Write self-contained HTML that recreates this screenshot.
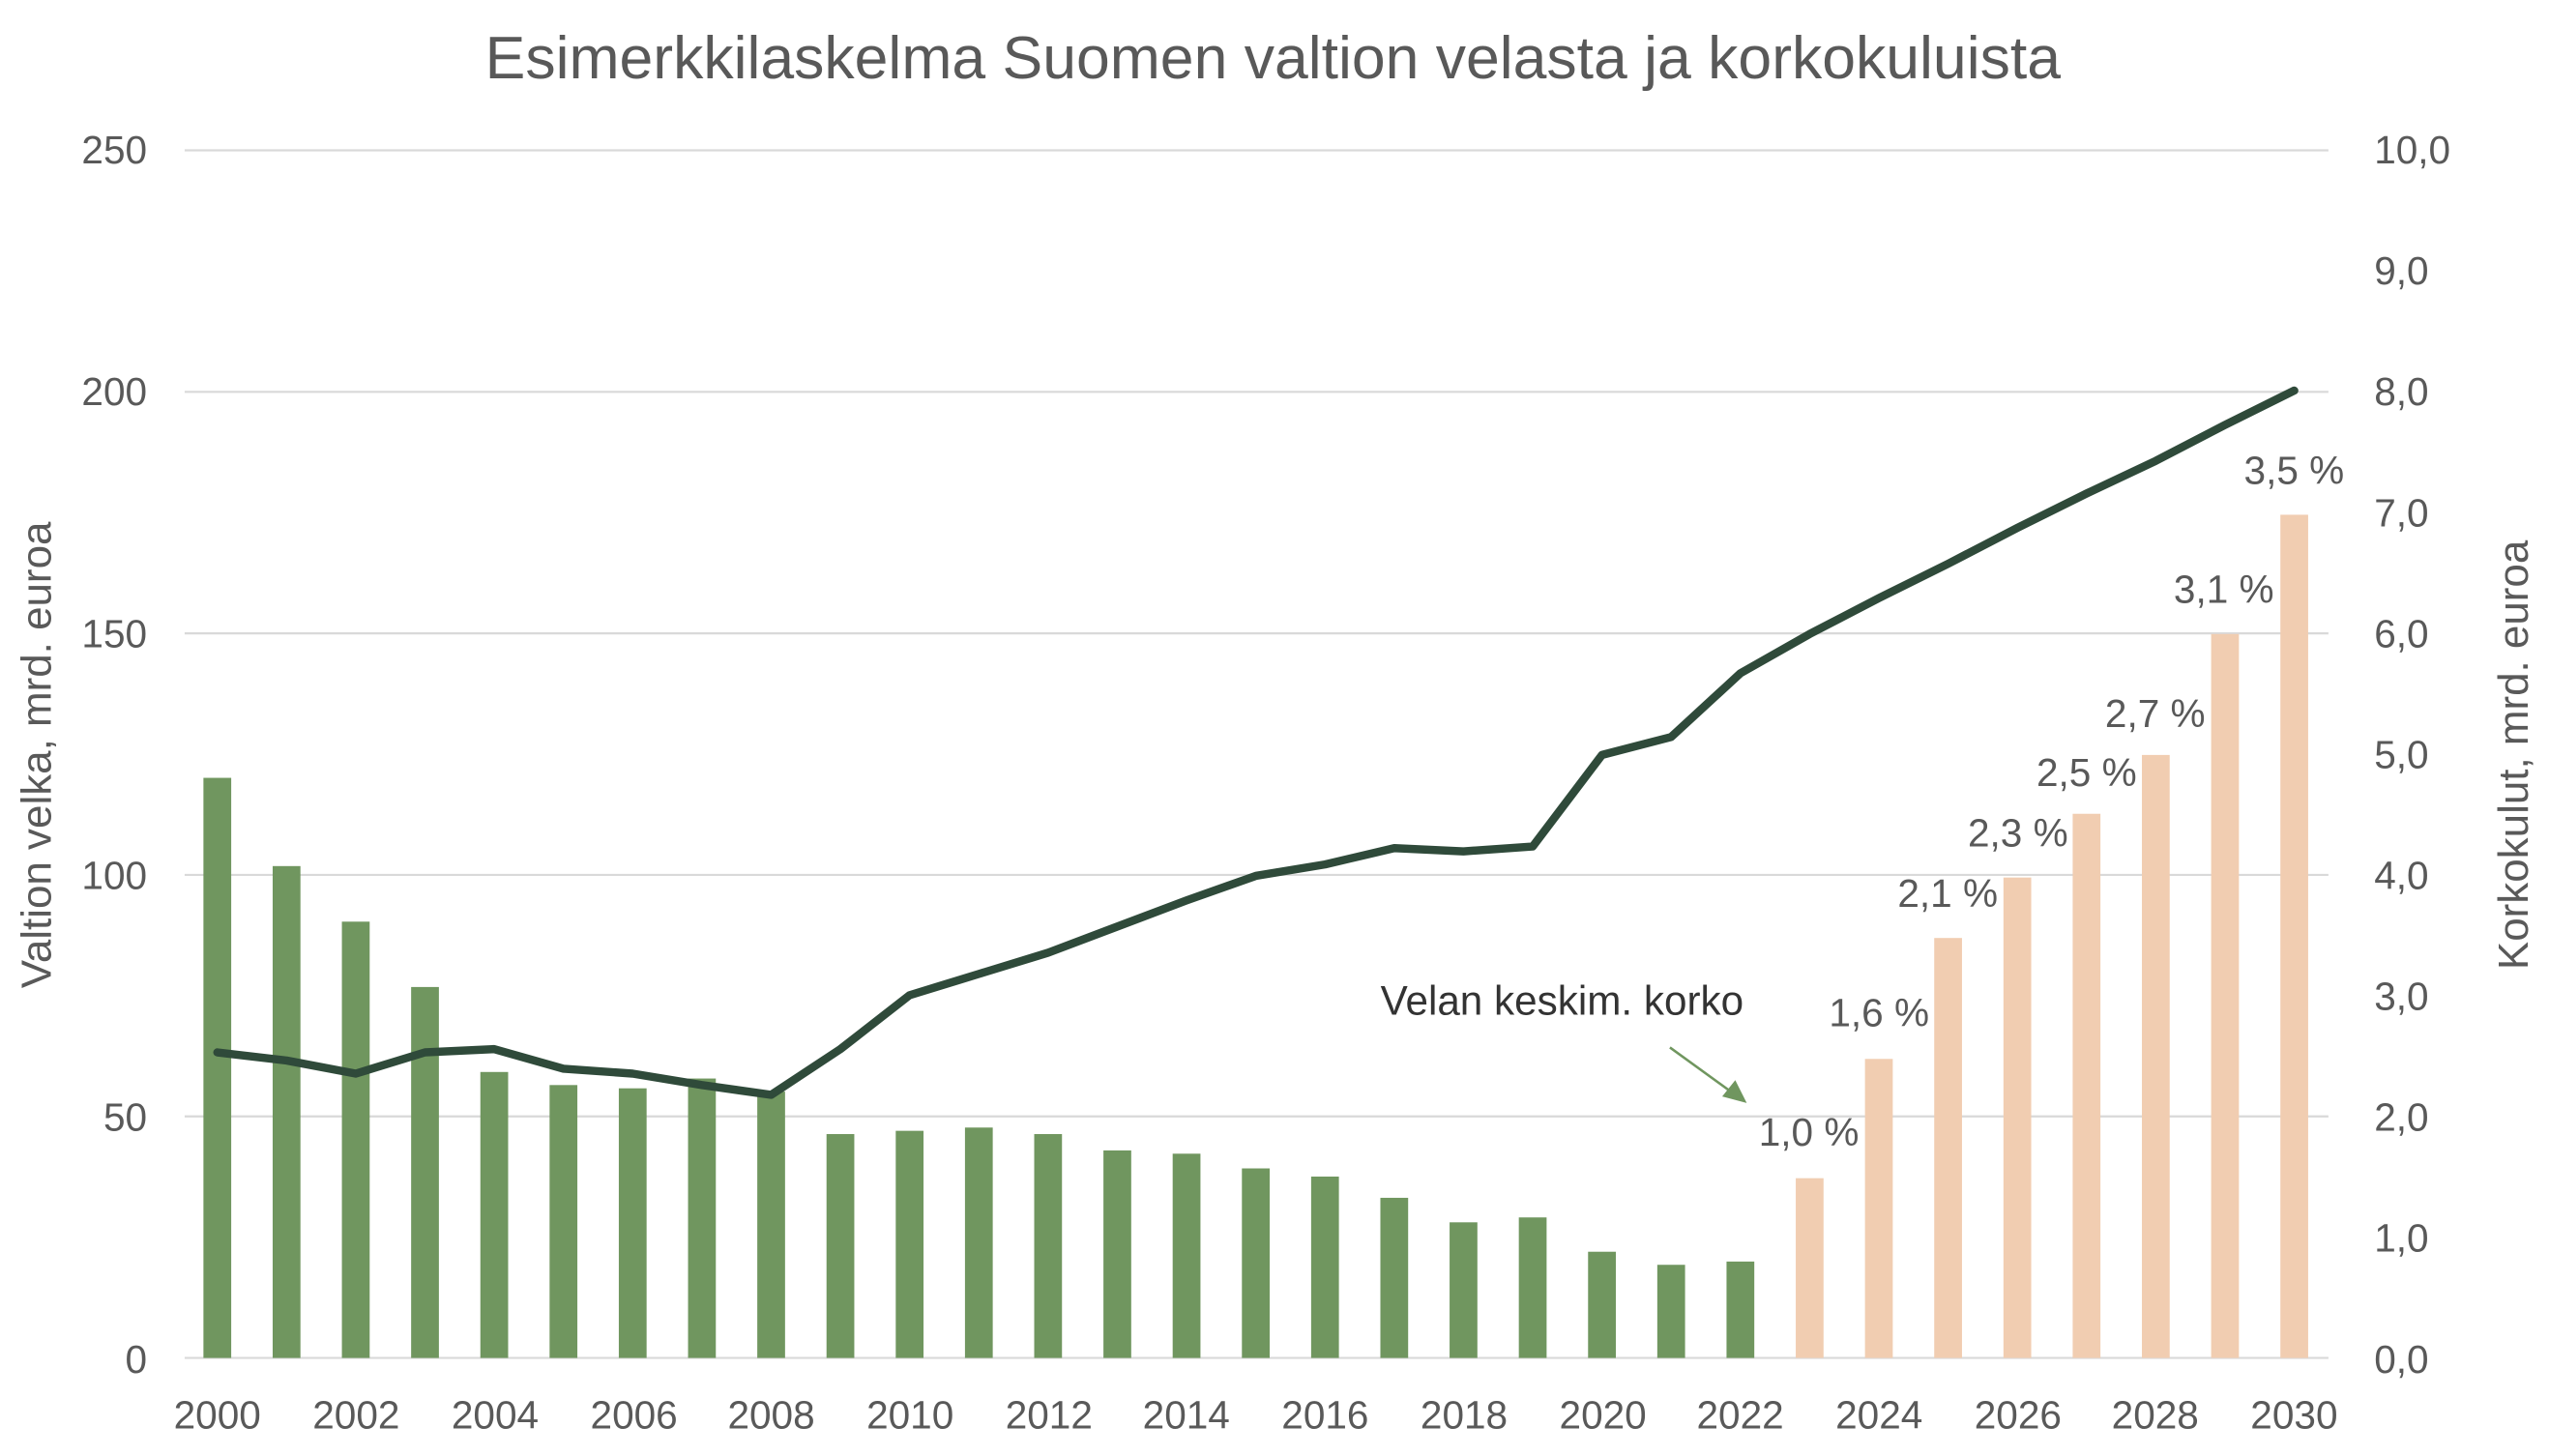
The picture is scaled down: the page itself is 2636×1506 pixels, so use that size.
<!DOCTYPE html>
<html><head><meta charset="utf-8"><style>
html,body{margin:0;padding:0;background:#fff;}
svg{display:block;}
text{font-family:"Liberation Sans",sans-serif;fill:#595959;}
</style></head><body>
<svg width="2636" height="1506" viewBox="0 0 1560 891" preserveAspectRatio="none" xmlns="http://www.w3.org/2000/svg">
<rect width="1560" height="891" fill="#fff"/>
<text x="779" y="48" font-size="37" text-anchor="middle">Esimerkkilaskelma Suomen valtion velasta ja korkokuluista</text>
<g stroke="#d9d9d9" stroke-width="1.3">
<line x1="113" x2="1425" y1="92" y2="92"/>
<line x1="113" x2="1425" y1="239.8" y2="239.8"/>
<line x1="113" x2="1425" y1="387.6" y2="387.6"/>
<line x1="113" x2="1425" y1="535.4" y2="535.4"/>
<line x1="113" x2="1425" y1="683.2" y2="683.2"/>
<line x1="113" x2="1425" y1="831" y2="831"/>
</g>
<g font-size="24" text-anchor="end">
<text x="90" y="100">250</text><text x="90" y="248">200</text><text x="90" y="396">150</text>
<text x="90" y="544">100</text><text x="90" y="692">50</text><text x="90" y="840">0</text>
</g>
<g font-size="24" text-anchor="start">
<text x="1453" y="100">10,0</text><text x="1453" y="174">9,0</text><text x="1453" y="248">8,0</text>
<text x="1453" y="322">7,0</text><text x="1453" y="396">6,0</text><text x="1453" y="470">5,0</text>
<text x="1453" y="544">4,0</text><text x="1453" y="618">3,0</text><text x="1453" y="692">2,0</text>
<text x="1453" y="766">1,0</text><text x="1453" y="840">0,0</text>
</g>
<text transform="translate(31,462) rotate(-90)" font-size="26" text-anchor="middle">Valtion velka, mrd. euroa</text>
<text transform="translate(1547,462) rotate(-90)" font-size="26" text-anchor="middle">Korkokulut, mrd. euroa</text>
<g id="bars"></g>
<g font-size="24" text-anchor="middle">
<text x="133" y="874">2000</text><text x="218" y="874">2002</text><text x="303" y="874">2004</text>
<text x="388" y="874">2006</text><text x="472" y="874">2008</text><text x="557" y="874">2010</text>
<text x="642" y="874">2012</text><text x="726" y="874">2014</text><text x="811" y="874">2016</text>
<text x="896" y="874">2018</text><text x="981" y="874">2020</text><text x="1065" y="874">2022</text>
<text x="1150" y="874">2024</text><text x="1235" y="874">2026</text><text x="1319" y="874">2028</text>
<text x="1404" y="874">2030</text>
</g>
<g font-size="24" text-anchor="middle">
<text x="1107" y="701">1,0 %</text><text x="1150" y="628">1,6 %</text><text x="1192" y="555">2,1 %</text>
<text x="1235" y="518">2,3 %</text><text x="1277" y="481">2,5 %</text><text x="1319" y="445">2,7 %</text>
<text x="1361" y="369">3,1 %</text><text x="1404" y="296">3,5 %</text>
</g>
<text x="956" y="621" font-size="25" text-anchor="middle" style="fill:#333">Velan keskim. korko</text>
<line x1="1022" y1="641" x2="1062" y2="670" stroke="#70965f" stroke-width="1.5"/>
<polygon points="1069,675 1054,671 1062,661" fill="#70965f"/>
</svg>
<script>
var tops=[476,530,564,604,656,664,666,660,668,694,692,690,694,704,706,715,720,733,748,745,766,774,772,721,648,574,537,498,462,388,315];
var line=[644,649,657,644,642,654,657,664,670,642,609,596,583,567,551,536,529,519,521,518,462,451,412,388,366,345,323,302,282,260,239];
var g=document.getElementById('bars'),ns="http://www.w3.org/2000/svg",pts=[];
for(var i=0;i<31;i++){var x=133+i*42.37;var r=document.createElementNS(ns,'rect');
r.setAttribute('x',x-8.5);r.setAttribute('width',17);r.setAttribute('y',tops[i]);r.setAttribute('height',831-tops[i]);
r.setAttribute('fill',i<23?'#70965f':'#f1cdb1');g.appendChild(r);pts.push(x+','+line[i]);}
var p=document.createElementNS(ns,'polyline');p.setAttribute('points',pts.join(' '));p.setAttribute('fill','none');
p.setAttribute('stroke','#2f4a3a');p.setAttribute('stroke-width','5');p.setAttribute('stroke-linejoin','round');p.setAttribute('stroke-linecap','round');
g.appendChild(p);
</script>
</body></html>
